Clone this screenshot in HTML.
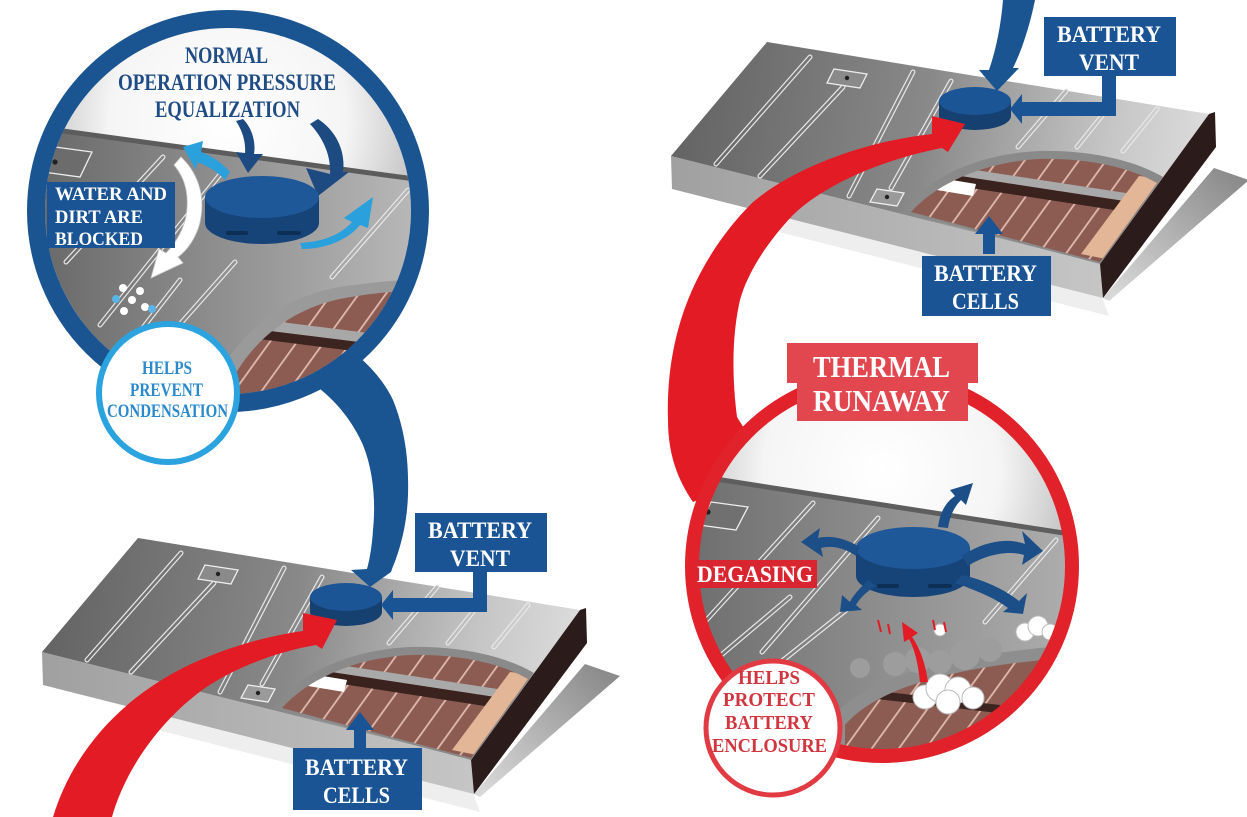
<!DOCTYPE html>
<html><head><meta charset="utf-8"><title>Battery vent diagram</title>
<style>html,body{margin:0;padding:0;background:#fff;width:1247px;height:817px;overflow:hidden}svg{display:block}</style>
</head><body>
<svg width="1247" height="817" viewBox="0 0 1247 817" xmlns="http://www.w3.org/2000/svg" font-family="'Liberation Serif', serif" font-weight="bold">
<defs>
<linearGradient id="topG" gradientUnits="userSpaceOnUse" x1="60" y1="590" x2="585" y2="660">
<stop offset="0" stop-color="#656565"/><stop offset="0.45" stop-color="#898989"/><stop offset="0.8" stop-color="#c6c6c6"/><stop offset="1" stop-color="#dedede"/>
</linearGradient>
<linearGradient id="frontG" gradientUnits="userSpaceOnUse" x1="42" y1="0" x2="480" y2="0">
<stop offset="0" stop-color="#a0a0a0"/><stop offset="1" stop-color="#c6c6c6"/>
</linearGradient>
<linearGradient id="shG" gradientUnits="userSpaceOnUse" x1="600" y1="670" x2="490" y2="795">
<stop offset="0" stop-color="#8c8c8c"/><stop offset="1" stop-color="#d8d8d8"/>
</linearGradient>
<pattern id="cellP" patternUnits="userSpaceOnUse" width="22" height="22" patternTransform="rotate(35.8)">
<rect width="22" height="22" fill="#8c5c52"/><rect width="1.8" height="22" fill="#dfb9ad"/>
</pattern>
<radialGradient id="bgB" gradientUnits="userSpaceOnUse" cx="228" cy="120" r="215">
<stop offset="0" stop-color="#fff"/><stop offset="0.55" stop-color="#f5f5f5"/><stop offset="1" stop-color="#b5b5b5"/>
</radialGradient>
<radialGradient id="bgR" gradientUnits="userSpaceOnUse" cx="882" cy="470" r="215">
<stop offset="0" stop-color="#fff"/><stop offset="0.55" stop-color="#f5f5f5"/><stop offset="1" stop-color="#b5b5b5"/>
</radialGradient>
<linearGradient id="bTray" gradientUnits="userSpaceOnUse" x1="45" y1="0" x2="420" y2="0">
<stop offset="0" stop-color="#6a6a6a"/><stop offset="1" stop-color="#b9b9b9"/>
</linearGradient>
<linearGradient id="rTray" gradientUnits="userSpaceOnUse" x1="700" y1="0" x2="1070" y2="0">
<stop offset="0" stop-color="#707070"/><stop offset="1" stop-color="#adadad"/>
</linearGradient>
<clipPath id="cB"><circle cx="228" cy="211" r="183"/></clipPath>
<clipPath id="cR"><circle cx="882" cy="566" r="184"/></clipPath>
<clipPath id="cutBL"><path d="M282,708 C308,679 355,658 410,655 C458,654 500,663 528,679 L471,758 Z"/></clipPath>
<clipPath id="cutB"><path d="M214,430 C226,368 272,311 345,298 C385,291 415,290 440,290 L440,430 Z"/></clipPath>
<clipPath id="cutR"><path d="M845,725 C875,690 945,667 1075,657 L1075,780 L845,780 Z"/></clipPath>
</defs>

<rect width="1247" height="817" fill="#fff"/>

<!-- ===== Bottom-left tray ===== -->
<g>
<polygon points="150,712 473,793 480,812 150,728" fill="#eeeeee"/>
<polygon points="585,664 620,676 480,797 474,794" fill="url(#shG)"/>
<polygon points="42,652 471,760 474,794 43,685" fill="url(#frontG)"/>
<polygon points="138,538 580,610 471,760 42,652" fill="url(#topG)"/>
<polygon points="580,610 586,608 587,643 474,794 471,760" fill="#2b1b1b"/>
<g stroke-linecap="round" fill="none">
<g stroke="#e8e8e8" stroke-width="5">
<line x1="181" y1="553" x2="87" y2="660"/><line x1="214" y1="583" x2="131" y2="672"/><line x1="284" y1="568" x2="220" y2="692"/><line x1="322" y1="577" x2="262" y2="684"/><line x1="437" y1="587" x2="389" y2="643"/><line x1="484" y1="598" x2="448" y2="643"/><line x1="528" y1="605" x2="494" y2="647"/>
</g>
<g stroke="url(#topG)" stroke-width="2.6">
<line x1="181" y1="553" x2="87" y2="660"/><line x1="214" y1="583" x2="131" y2="672"/><line x1="284" y1="568" x2="220" y2="692"/><line x1="322" y1="577" x2="262" y2="684"/><line x1="437" y1="587" x2="389" y2="643"/><line x1="484" y1="598" x2="448" y2="643"/><line x1="528" y1="605" x2="494" y2="647"/>
</g>
</g>
<polygon points="205,565 238,570 231,584 198,579" fill="#8a8a8a" stroke="#eee" stroke-width="1.3"/>
<circle cx="218" cy="574" r="2.2" fill="#222"/>
<polygon points="248,685 275,689 268,702 241,698" fill="#9a9a9a" stroke="#eee" stroke-width="1.3"/>
<circle cx="258" cy="693" r="2.2" fill="#222"/>
<path d="M273,708 C300,672 350,650 410,647 C460,646 505,656 534,673 L471,760 Z" fill="#8a8a8a"/>
<g clip-path="url(#cutBL)">
<rect x="270" y="640" width="280" height="130" fill="url(#cellP)"/>
<polygon points="320,662 530,694 528,702 318,670" fill="#a9a9a9"/>
<polygon points="318,670 528,702 524,712 316,680" fill="#3a221e"/>
<polygon points="311,674 347,680 344,692 308,686" fill="#fff"/>
<polygon points="510,672 535,675 477,755 452,750" fill="#e2b696"/>
</g>
<path d="M310,597 L310,612 A36,14 0 0 0 382,612 L382,597 Z" fill="#15406f"/>
<ellipse cx="346" cy="597" rx="36" ry="14" fill="#1c5596"/>
<path d="M473,572 L487,572 L487,612 L393,612 L393,620 L381,605 L393,590 L393,598 L473,598 Z" fill="#1a5494"/>
<rect x="415" y="513" width="132" height="59" fill="#1a5494"/>
<text x="428" y="538" font-size="23" fill="#fff" textLength="104" lengthAdjust="spacingAndGlyphs">BATTERY</text>
<text x="450" y="566" font-size="23" fill="#fff" textLength="60" lengthAdjust="spacingAndGlyphs">VENT</text>
<rect x="354" y="726" width="12" height="24" fill="#1a5494"/>
<polygon points="346,730 374,730 360,712" fill="#1a5494"/>
<rect x="293" y="748" width="129" height="62" fill="#1a5494"/>
<text x="305" y="775" font-size="23" fill="#fff" textLength="103" lengthAdjust="spacingAndGlyphs">BATTERY</text>
<text x="323" y="803" font-size="23" fill="#fff" textLength="67" lengthAdjust="spacingAndGlyphs">CELLS</text>
</g>

<!-- red arrow bottom-left -->
<path d="M53,817 C75,745 130,690 200,660 C240,643 275,635 303,631 L303,613 L337,620 L322,649 L316,645 C275,652 235,668 205,688 C160,720 125,770 112,817 Z" fill="#e31b25"/>

<!-- blue tail from circle -->
<path d="M315,385 C335,400 352,420 363,445 C373,470 376,500 373,530 C372,545 370,558 367,569 L351,570 L370,587 L391,572 L392,569 C400,550 407,525 408,495 C409,460 405,430 393,400 C385,383 372,368 358,356 L330,330 Z" fill="#1a5592"/>

<!-- ===== Blue circle ===== -->
<g clip-path="url(#cB)">
<rect x="30" y="20" width="400" height="400" fill="url(#bgB)"/>
<polygon points="30,127 440,183 440,430 30,430" fill="url(#bTray)"/>
<polygon points="30,124 440,180 440,185 30,129" fill="#5c5c5c"/>
<g stroke-linecap="round" fill="none">
<g stroke="#e8e8e8" stroke-width="5">
<line x1="163" y1="157" x2="66" y2="262"/><line x1="222" y1="172" x2="100" y2="325"/><line x1="235" y1="262" x2="150" y2="358"/><line x1="408" y1="190" x2="332" y2="277"/><line x1="180" y1="280" x2="110" y2="370"/>
</g>
<g stroke="url(#bTray)" stroke-width="2.6">
<line x1="163" y1="157" x2="66" y2="262"/><line x1="222" y1="172" x2="100" y2="325"/><line x1="235" y1="262" x2="150" y2="358"/><line x1="408" y1="190" x2="332" y2="277"/><line x1="180" y1="280" x2="110" y2="370"/>
</g>
</g>
<polygon points="55,147 92,152 80,177 43,172" fill="#6c6c6c" stroke="#eee" stroke-width="1.3"/>
<circle cx="55" cy="162" r="2.6" fill="#222"/>
<path d="M200,430 C212,360 262,300 340,287 C380,281 410,279 440,279 L440,430 Z" fill="#9a9a9a"/>
<g clip-path="url(#cutB)">
<rect x="200" y="280" width="250" height="160" fill="url(#cellP)"/>
<polygon points="225,315 440,342 440,352 222,325" fill="#a8a8a8"/>
<polygon points="222,325 440,352 440,362 220,334" fill="#3c2420"/>
<polygon points="217,322 257,327 253,348 212,343" fill="#fff"/>
</g>
<!-- arrows -->
<path d="M243,119 C252,128 256,142 254,154 L263,154 L248,173 L236,152 L245,153 C246,142 242,130 236,121 Z" fill="#1d4a80"/>
<path d="M318,119 C335,130 346,150 343,172 L349,172 L318,196 L306,168 L330,174 C331,158 325,140 310,124 Z" fill="#1d4a80"/>
<path d="M183,147 L203,141 L201,152 C212,156 222,163 230,172 L225,180 C218,172 208,166 197,162 L196,170 Z" fill="#2aa0dc"/>
<path d="M205,197 L205,223 A57,21 0 0 0 319,223 L319,197 Z" fill="#174478"/>
<ellipse cx="262" cy="197" rx="57" ry="21" fill="#1e5899"/>
<rect x="226" y="231" width="22" height="4" rx="2" fill="#0e2f55"/>
<rect x="277" y="231" width="24" height="4" rx="2" fill="#0e2f55"/>
<path d="M300,243 C320,242 340,236 352,222 L344,218 L373,197 L368,228 L360,225 C348,240 325,249 302,249 Z" fill="#2aa0dc"/>
<path d="M181,157 C200,175 206,200 199,226 C194,241 186,251 178,257 L183,263 L151,278 L159,249 L166,253 C175,244 181,234 185,221 C190,200 187,180 174,165 Z" fill="#fff" stroke="#ccc" stroke-width="0.8"/>
<g fill="#fff"><circle cx="123" cy="288" r="4"/><circle cx="140" cy="291" r="4"/><circle cx="132" cy="300" r="4"/><circle cx="124" cy="311" r="4"/><circle cx="145" cy="307" r="4"/></g>
<g fill="#5ab4e6"><circle cx="116" cy="299" r="4"/><circle cx="152" cy="309" r="4"/></g>
</g>
<circle cx="228" cy="211" r="192" fill="none" stroke="#1a5592" stroke-width="18"/>
<rect x="47" y="182" width="128" height="66" fill="#1a5494"/>
<text x="55" y="200" font-size="19" fill="#fff" textLength="112" lengthAdjust="spacingAndGlyphs">WATER AND</text>
<text x="55" y="223" font-size="19" fill="#fff" textLength="88" lengthAdjust="spacingAndGlyphs">DIRT ARE</text>
<text x="55" y="245" font-size="19" fill="#fff" textLength="88" lengthAdjust="spacingAndGlyphs">BLOCKED</text>
<text x="185" y="63" font-size="23" fill="#1f4c85" textLength="83" lengthAdjust="spacingAndGlyphs">NORMAL</text>
<text x="118" y="90" font-size="23" fill="#1f4c85" textLength="218" lengthAdjust="spacingAndGlyphs">OPERATION PRESSURE</text>
<text x="155" y="117" font-size="23" fill="#1f4c85" textLength="145" lengthAdjust="spacingAndGlyphs">EQUALIZATION</text>
<circle cx="168" cy="393" r="69" fill="#fff" stroke="#2ba3df" stroke-width="6"/>
<text x="142" y="374" font-size="18.5" fill="#2a88cc" textLength="50" lengthAdjust="spacingAndGlyphs">HELPS</text>
<text x="130" y="396" font-size="18.5" fill="#2a88cc" textLength="73" lengthAdjust="spacingAndGlyphs">PREVENT</text>
<text x="107" y="417" font-size="18.5" fill="#2a88cc" textLength="121" lengthAdjust="spacingAndGlyphs">CONDENSATION</text>

<!-- ===== Top-right tray (same geometry, translated) ===== -->
<g transform="translate(629,-496)">
<polygon points="150,712 473,793 480,812 150,728" fill="#eeeeee"/>
<polygon points="585,664 620,676 480,797 474,794" fill="url(#shG)"/>
<polygon points="42,652 471,760 474,794 43,685" fill="url(#frontG)"/>
<polygon points="138,538 580,610 471,760 42,652" fill="url(#topG)"/>
<polygon points="580,610 586,608 587,643 474,794 471,760" fill="#2b1b1b"/>
<g stroke-linecap="round" fill="none">
<g stroke="#e8e8e8" stroke-width="5">
<line x1="181" y1="553" x2="87" y2="660"/><line x1="214" y1="583" x2="131" y2="672"/><line x1="284" y1="568" x2="220" y2="692"/><line x1="322" y1="577" x2="262" y2="684"/><line x1="437" y1="587" x2="389" y2="643"/><line x1="484" y1="598" x2="448" y2="643"/><line x1="528" y1="605" x2="494" y2="647"/>
</g>
<g stroke="url(#topG)" stroke-width="2.6">
<line x1="181" y1="553" x2="87" y2="660"/><line x1="214" y1="583" x2="131" y2="672"/><line x1="284" y1="568" x2="220" y2="692"/><line x1="322" y1="577" x2="262" y2="684"/><line x1="437" y1="587" x2="389" y2="643"/><line x1="484" y1="598" x2="448" y2="643"/><line x1="528" y1="605" x2="494" y2="647"/>
</g>
</g>
<polygon points="205,565 238,570 231,584 198,579" fill="#8a8a8a" stroke="#eee" stroke-width="1.3"/>
<circle cx="218" cy="574" r="2.2" fill="#222"/>
<polygon points="248,685 275,689 268,702 241,698" fill="#9a9a9a" stroke="#eee" stroke-width="1.3"/>
<circle cx="258" cy="693" r="2.2" fill="#222"/>
<path d="M273,708 C300,672 350,650 410,647 C460,646 505,656 534,673 L471,760 Z" fill="#8a8a8a"/>
<g clip-path="url(#cutBL)">
<rect x="270" y="640" width="280" height="130" fill="url(#cellP)"/>
<polygon points="320,662 530,694 528,702 318,670" fill="#a9a9a9"/>
<polygon points="318,670 528,702 524,712 316,680" fill="#3a221e"/>
<polygon points="311,674 347,680 344,692 308,686" fill="#fff"/>
<polygon points="510,672 535,675 477,755 452,750" fill="#e2b696"/>
</g>
<path d="M310,597 L310,612 A36,14 0 0 0 382,612 L382,597 Z" fill="#15406f"/>
<ellipse cx="346" cy="597" rx="36" ry="14" fill="#1c5596"/>
<path d="M473,572 L487,572 L487,612 L393,612 L393,620 L381,605 L393,590 L393,598 L473,598 Z" fill="#1a5494"/>
<rect x="415" y="513" width="132" height="59" fill="#1a5494"/>
<text x="428" y="538" font-size="23" fill="#fff" textLength="104" lengthAdjust="spacingAndGlyphs">BATTERY</text>
<text x="450" y="566" font-size="23" fill="#fff" textLength="60" lengthAdjust="spacingAndGlyphs">VENT</text>
<rect x="354" y="726" width="12" height="24" fill="#1a5494"/>
<polygon points="346,730 374,730 360,712" fill="#1a5494"/>
<rect x="293" y="752" width="129" height="60" fill="#1a5494"/>
<text x="305" y="777" font-size="23" fill="#fff" textLength="103" lengthAdjust="spacingAndGlyphs">BATTERY</text>
<text x="323" y="805" font-size="23" fill="#fff" textLength="67" lengthAdjust="spacingAndGlyphs">CELLS</text>
</g>

<!-- blue arrow from top (top-right) -->
<path d="M1003,0 L1035,0 C1030,25 1022,50 1013,68 L1019,68 L997,91 L979,70 L989,70 C996,50 1001,25 1003,0 Z" fill="#1a5592"/>

<!-- red arrow top-right to circle -->
<path d="M965,124 L948,152 L942,148 C880,160 822,186 792,216 C762,248 746,278 740,300 C733,330 731,370 737,417 L770,470 L693,502 C678,480 668,455 668,420 C667,390 670,360 678,330 C690,285 715,240 752,203 C790,170 860,142 932,134 L932,116 Z" fill="#e31b25"/>

<!-- ===== Red circle ===== -->
<g clip-path="url(#cR)">
<rect x="690" y="375" width="390" height="390" fill="url(#bgR)"/>
<polygon points="680,474 1080,536 1080,770 680,770" fill="url(#rTray)"/>
<polygon points="680,471 1080,533 1080,538 680,476" fill="#5e5e5e"/>
<g stroke-linecap="round" fill="none">
<g stroke="#e8e8e8" stroke-width="5">
<line x1="813" y1="503" x2="702" y2="625"/><line x1="878" y1="518" x2="762" y2="652"/><line x1="1056" y1="540" x2="985" y2="622"/><line x1="790" y1="597" x2="707" y2="667"/><line x1="850" y1="607" x2="767" y2="673"/>
</g>
<g stroke="url(#rTray)" stroke-width="2.6">
<line x1="813" y1="503" x2="702" y2="625"/><line x1="878" y1="518" x2="762" y2="652"/><line x1="1056" y1="540" x2="985" y2="622"/><line x1="790" y1="597" x2="707" y2="667"/><line x1="850" y1="607" x2="767" y2="673"/>
</g>
</g>
<polygon points="711,502 748,507 736,530 699,525" fill="#707070" stroke="#eee" stroke-width="1.3"/>
<circle cx="708" cy="512" r="2.6" fill="#222"/>
<path d="M830,720 C860,680 940,655 1075,645 L1075,780 L830,780 Z" fill="#8e8e8e"/>
<g clip-path="url(#cutR)">
<rect x="830" y="640" width="260" height="150" fill="url(#cellP)"/>
<polygon points="870,690 1000,705 998,713 868,698" fill="#3c2420"/>
<polygon points="853,685 883,689 881,698 851,694" fill="#fff"/>
</g>
<g fill="#9d9d9d"><circle cx="860" cy="668" r="10"/><circle cx="895" cy="664" r="12"/><circle cx="918" cy="660" r="13"/><circle cx="940" cy="662" r="12"/><circle cx="965" cy="655" r="15"/><circle cx="990" cy="650" r="12"/></g>
<g fill="#fff" stroke="#bbb" stroke-width="1"><circle cx="925" cy="697" r="12"/><circle cx="940" cy="688" r="14"/><circle cx="958" cy="690" r="13"/><circle cx="973" cy="698" r="11"/><circle cx="948" cy="702" r="12"/><circle cx="1025" cy="632" r="9"/><circle cx="1038" cy="626" r="10"/><circle cx="1050" cy="632" r="8"/><circle cx="940" cy="630" r="6"/></g>
<path d="M928,682 C925,660 918,645 912,637 L918,633 L902,622 L904,642 L909,639 C914,648 918,662 920,682 Z" fill="#e31b25"/>
<g stroke="#e31b25" stroke-width="2"><line x1="878" y1="620" x2="881" y2="632"/><line x1="888" y1="624" x2="890" y2="634"/><line x1="933" y1="620" x2="935" y2="630"/><line x1="944" y1="622" x2="946" y2="632"/></g>
<path d="M856,548 L856,576 A57,21 0 0 0 970,576 L970,548 Z" fill="#174478"/>
<ellipse cx="913" cy="548" rx="57" ry="21" fill="#1e5899"/>
<rect x="877" y="584" width="22" height="4" rx="2" fill="#0e2f55"/>
<rect x="928" y="584" width="24" height="4" rx="2" fill="#0e2f55"/>
<g fill="#1c4f88">
<path d="M938,527 C940,512 946,502 955,496 L950,490 L973,483 L966,505 L961,500 C954,507 950,516 948,528 Z"/>
<path d="M860,547 C845,538 830,535 818,538 L820,528 L801,542 L823,557 L821,548 C832,545 845,548 856,556 Z"/>
<path d="M962,556 C985,540 1010,538 1025,544 L1022,531 L1043,551 L1022,565 L1024,555 C1008,550 985,555 968,566 Z"/>
<path d="M868,580 C858,590 852,597 850,602 L842,595 L840,612 L862,610 L856,605 C860,598 866,592 876,586 Z"/>
<path d="M955,583 C975,590 995,598 1008,608 L1003,612 L1023,614 L1027,593 L1019,601 C1005,590 985,580 962,575 Z"/>
</g>
</g>
<circle cx="882" cy="566" r="190" fill="none" stroke="#e1222b" stroke-width="14"/>
<rect x="787" y="343" width="191" height="40" fill="#e24750"/>
<rect x="797" y="381" width="171" height="40" fill="#e24750"/>
<text x="813" y="377" font-size="31" fill="#fff" textLength="137" lengthAdjust="spacingAndGlyphs">THERMAL</text>
<text x="813" y="411" font-size="31" fill="#fff" textLength="137" lengthAdjust="spacingAndGlyphs">RUNAWAY</text>
<rect x="695" y="560" width="122" height="28" fill="#d92530"/>
<text x="697" y="582" font-size="23" fill="#fff" textLength="116" lengthAdjust="spacingAndGlyphs">DEGASING</text>
<circle cx="773" cy="728" r="67" fill="#fff" stroke="#e13a43" stroke-width="5"/>
<text x="738" y="684" font-size="19.5" fill="#d0363f" textLength="62" lengthAdjust="spacingAndGlyphs">HELPS</text>
<text x="723" y="706" font-size="19.5" fill="#d0363f" textLength="92" lengthAdjust="spacingAndGlyphs">PROTECT</text>
<text x="725" y="729" font-size="19.5" fill="#d0363f" textLength="88" lengthAdjust="spacingAndGlyphs">BATTERY</text>
<text x="712" y="752" font-size="19.5" fill="#d0363f" textLength="115" lengthAdjust="spacingAndGlyphs">ENCLOSURE</text>
</svg>
</body></html>
